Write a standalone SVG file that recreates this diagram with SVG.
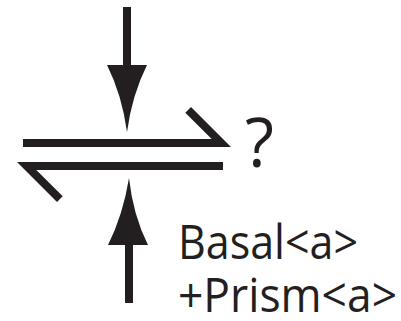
<svg xmlns="http://www.w3.org/2000/svg" width="401" height="321" viewBox="0 0 401 321">
<style>
.ink{fill:#231f20;stroke:none}
.lbl{font-family:"Open Sans","Liberation Sans",sans-serif;fill:#231f20}
</style>
<rect width="401" height="321" fill="#ffffff"/>
<g id="connectors">
<g id="arrow-top">
<rect class="ink" x="123" y="7" width="8" height="59"/>
<path class="ink" d="M107,65 L147,65 Q132,95 127,132 Q122,95 107,65 Z"/>
</g>
<g id="arrow-bottom">
<rect class="ink" x="125" y="244" width="8" height="59"/>
<path class="ink" d="M108,245 L148,245 Q133,215 129,178 Q123,215 108,245 Z"/>
</g>
<g id="shear-upper">
<polygon class="ink" points="23,139 211.7,139 185.3,112.7 191,107 231,147 23,147"/>
</g>
<g id="shear-lower">
<polygon class="ink" points="223,162 17,162 57,202 62.7,196.3 36.3,170 223,170"/>
</g>
</g>
<g id="label-question">
<text class="lbl" x="245" y="167" font-size="67">?</text>
</g>
<g id="label-slip">
<text class="lbl" x="178" y="259" font-size="47" textLength="180" lengthAdjust="spacingAndGlyphs">Basal&lt;a&gt;</text>
<text class="lbl" x="178" y="312" font-size="47" textLength="219" lengthAdjust="spacingAndGlyphs">+Prism&lt;a&gt;</text>
</g>
</svg>
